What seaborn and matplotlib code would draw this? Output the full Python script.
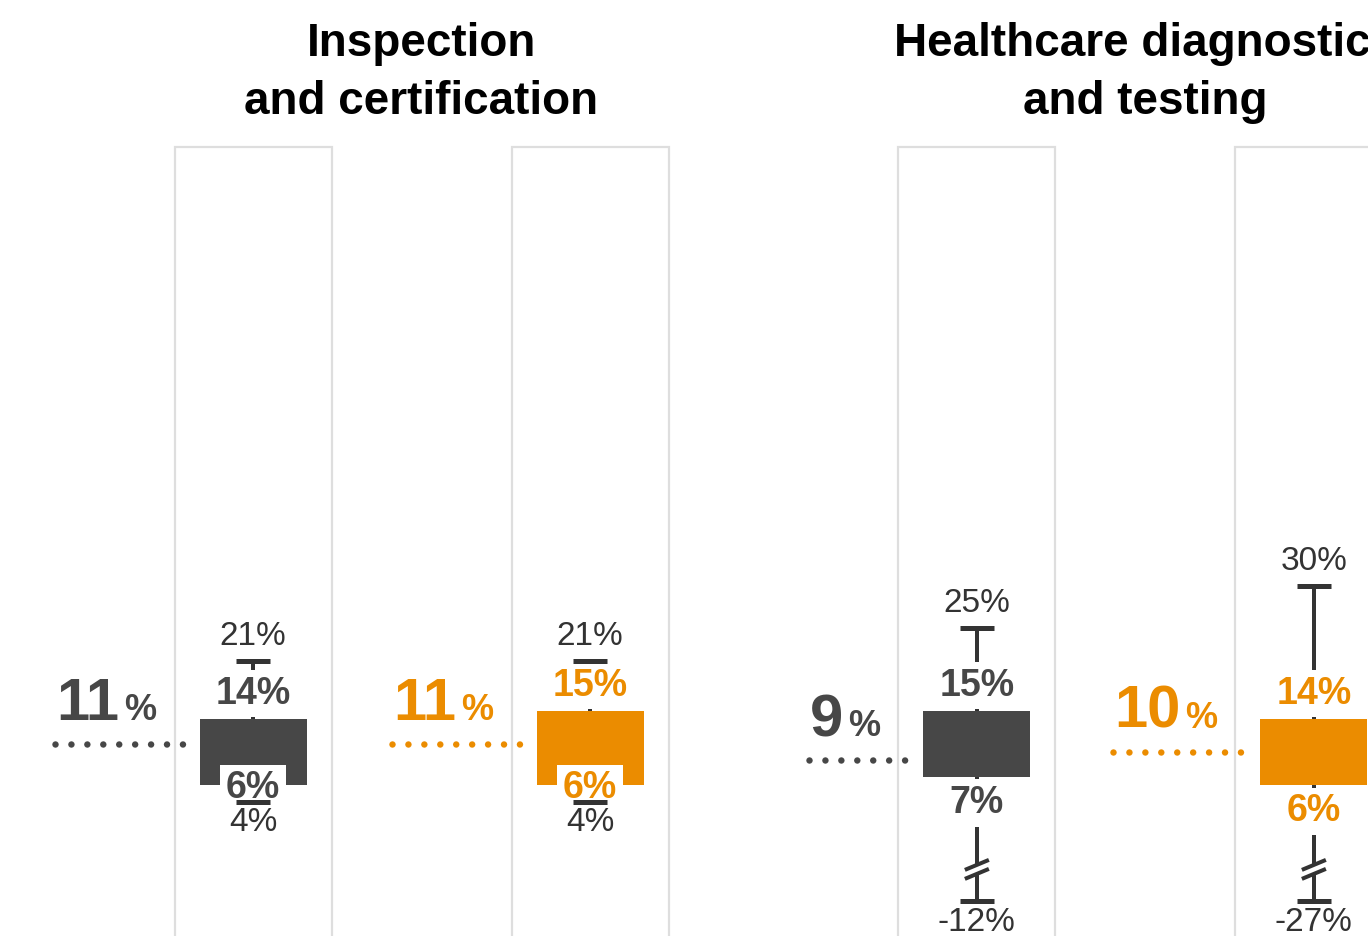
import numpy as np
import pandas as pd
import matplotlib
matplotlib.use("Agg")
import matplotlib.pyplot as plt
from matplotlib.patches import Rectangle
import seaborn as sns

# data (%), one entry per box: grey / orange within each group
groups = ["Inspection\nand certification", "Healthcare diagnostics\nand testing"]
group_idx = [0, 0, 1, 1]
series_idx = [0, 1, 0, 1]
whis_hi = [21, 21, 25, 30]
q3 = [14, 15, 15, 14]
median = [11, 11, 9, 10]
q1 = [6, 6, 7, 6]
whis_lo = [4, 4, -12, -27]

df = pd.DataFrame({"group": group_idx, "series": series_idx, "hi": whis_hi,
                   "q3": q3, "med": median, "q1": q1, "lo": whis_lo})

# styling
box_colors = ["#474747", "#EB8C00"]
line_color = "#333333"
col_edge = "#dedede"
PPX = 337.0   # pixels per x unit
PPY = 8.3     # pixels per percentage point
group_step = 2.148
clip_floor = -8  # long negative whiskers are broken and stopped here

sns.set_theme(style="white")
plt.rcParams["font.family"] = ["Liberation Sans", "DejaVu Sans"]

fig = plt.figure(figsize=(13.68, 9.36), dpi=100)
ax = fig.add_axes([0, 0, 1, 1])
ax.set_xlim(-253 / PPX, (1368 - 253) / PPX)
ax.set_ylim(-(936 - 835) / PPY, 835 / PPY)
ax.axis("off")


def px(n):
    return n / PPX


def py(n):
    return n / PPY


def pt(n):
    return n * 72 / 100


df["x"] = df["group"] * group_step + df["series"]
box_w = px(107)
col_w = px(157)
col_top = py(835 - 147)
ymin = ax.get_ylim()[0]
renderer = fig.canvas.get_renderer()

for _, r in df.iterrows():
    x = r["x"]
    color = box_colors[int(r["series"])]

    # light column frame
    ax.add_patch(Rectangle((x - col_w / 2, ymin - 10), col_w, col_top - ymin + 10,
                           fill=False, edgecolor=col_edge, lw=pt(2.2), zorder=1))

    # box body
    ax.bar(x, r["q3"] - r["q1"], bottom=r["q1"], width=box_w, color=color,
           linewidth=0, zorder=3)

    # upper whisker + cap
    ax.vlines(x, r["q3"], r["hi"], color=line_color, lw=pt(4), zorder=2)
    ax.hlines(r["hi"], x - px(17), x + px(17), color=line_color, lw=pt(5), zorder=5)
    ax.text(x, r["hi"] + py(24), f"{r['hi']:.0f}%", ha="center", va="center",
            fontsize=24, color=line_color, zorder=6)

    # lower whisker, broken when it runs past the floor
    lo = r["lo"]
    if lo < clip_floor:
        lo_draw = clip_floor
        yb = clip_floor + py(32)
        ax.vlines(x, r["q1"], yb + py(5), color=line_color, lw=pt(4), zorder=2)
        ax.vlines(x, yb - py(5), lo_draw, color=line_color, lw=pt(4), zorder=2)
        for off in (py(4.5), -py(4.5)):
            ax.plot([x - px(12), x + px(12)], [yb + off - py(5), yb + off + py(5)],
                    color=line_color, lw=pt(4), solid_capstyle="butt", zorder=5)
    else:
        lo_draw = lo
        ax.vlines(x, r["q1"], lo_draw, color=line_color, lw=pt(4), zorder=2)
    ax.hlines(lo_draw, x - px(17), x + px(17), color=line_color, lw=pt(5), zorder=5)
    ax.text(x, lo_draw - py(21), f"{lo:.0f}%", ha="center", va="center",
            fontsize=24, color=line_color, zorder=6)

    # quartile labels with white backing
    lbl_color = color
    ax.text(x, r["q3"] + py(25), f"{r['q3']:.0f}%", ha="center", va="center",
            fontsize=27, fontweight="bold", color=lbl_color, zorder=4,
            bbox=dict(boxstyle="square,pad=0.15", fc="white", ec="none"))
    if (r["q1"] - lo_draw) * PPY < 45:
        y_q1 = r["q1"] - py(3)
    else:
        y_q1 = r["q1"] - py(26)
    ax.text(x, y_q1, f"{r['q1']:.0f}%", ha="center", va="center",
            fontsize=27, fontweight="bold", color=lbl_color, zorder=4,
            bbox=dict(boxstyle="square,pad=0.15", fc="white", ec="none"))

    # median: big number on the left and dotted leader to the box
    box_left = x - box_w / 2
    y_txt = r["med"] + py(24)
    t_pct = ax.text(box_left - px(43), y_txt, "%", ha="right", va="baseline",
                    fontsize=26, fontweight="bold", color=color, zorder=4)
    bb = t_pct.get_window_extent(renderer)
    x_num = ax.transData.inverted().transform((bb.x0 - 5, 0))[0]
    t_num = ax.text(x_num, y_txt, f"{r['med']:.0f}", ha="right", va="baseline",
                    fontsize=43, fontweight="bold", color=color, zorder=4)
    bb2 = t_num.get_window_extent(renderer)
    x_start = ax.transData.inverted().transform((bb2.x0 - 1, 0))[0]
    ax.plot([x_start, box_left - px(4)], [r["med"], r["med"]], color=color,
            lw=pt(6.5), linestyle=(0, (0.001, 2.45)), dash_capstyle="round", zorder=2)

# group titles
for g, title in enumerate(groups):
    xs = df.loc[df["group"] == g, "x"]
    ax.text(xs.mean(), py(835 - 73), title, ha="center", va="center",
            fontsize=33, fontweight="bold", color="black", linespacing=1.4)

fig.savefig("out.png", dpi=100, facecolor="white")
